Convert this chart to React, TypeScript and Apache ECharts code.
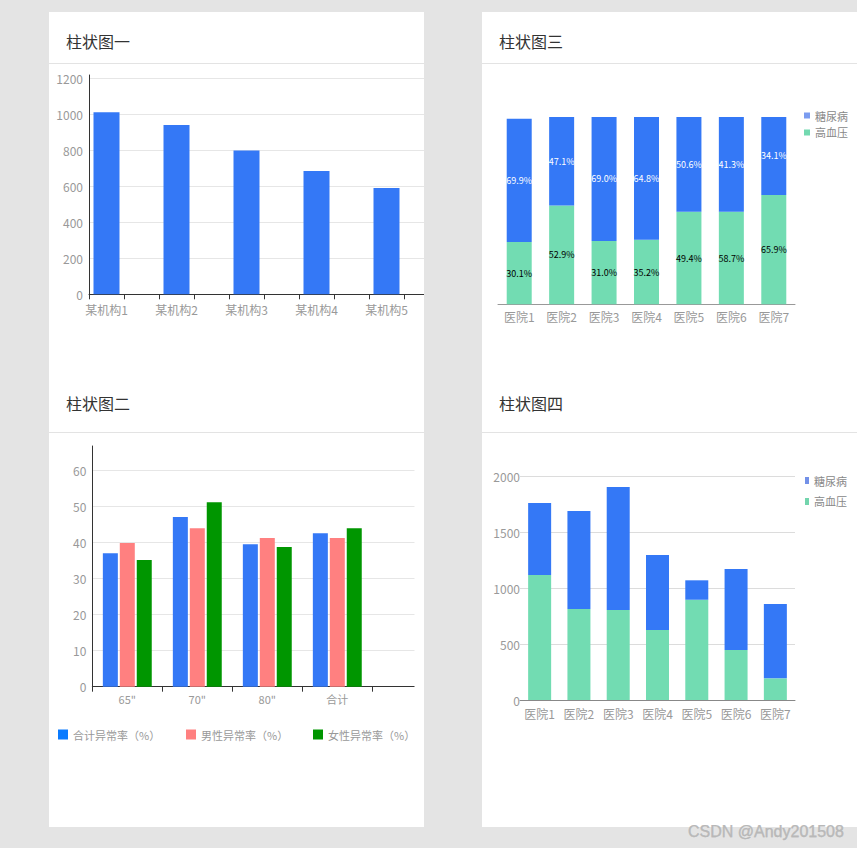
import React, { useEffect, useRef } from 'react';
import * as echarts from 'echarts';

// ---------- data ----------
const chart1Categories = ['某机构1', '', '某机构2', '', '某机构3', '', '某机构4', '', '某机构5', ''];
const chart1Values: (number | string)[] = [1011, '-', 940, '-', 798, '-', 685, '-', 590, '-'];
const chart1YTicks = [0, 200, 400, 600, 800, 1000, 1200];

const chart2Categories = ['65"', '70"', '80"', '合计', ''];
const chart2SeriesNames = ['合计异常率（%）', '男性异常率（%）', '女性异常率（%）'];
const chart2Total = [37.0, 47.0, 39.5, 42.5];
const chart2Male = [39.8, 43.9, 41.2, 41.2];
const chart2Female = [35.1, 51.1, 38.7, 43.9];

const hospitals = ['医院1', '医院2', '医院3', '医院4', '医院5', '医院6', '医院7'];
const diseaseNames = ['糖尿病', '高血压'];
const chart3Hypertension = [33.3, 52.7, 33.8, 34.4, 49.4, 49.4, 58.4];
const chart3Diabetes = [65.8, 47.3, 66.2, 65.6, 50.6, 50.6, 41.6];
const chart3HypertensionLabels = ['30.1%', '52.9%', '31.0%', '35.2%', '49.4%', '58.7%', '65.9%'];
const chart3DiabetesLabels = ['69.9%', '47.1%', '69.0%', '64.8%', '50.6%', '41.3%', '34.1%'];

const chart4Hypertension = [1120, 815, 805, 627, 898, 448, 194];
const chart4Diabetes = [645, 878, 1103, 672, 174, 725, 666];

const titles = ['柱状图一', '柱状图二', '柱状图三', '柱状图四'];
const watermark = 'CSDN @Andy201508';

// ---------- styles ----------
const FONT = '"Noto Sans CJK SC", "Microsoft YaHei", sans-serif';
const BLUE = '#3478f6';
const MINT = '#72dcb2';
const PINK = '#ff8080';
const DGREEN = '#009600';
const PAGE = '#e4e4e4';
const LABEL = '#999';
const SPLIT = '#e6e6e6';

const plain = (v: number) => String(v);

function buildOption(): any {
  const titleStyle = { fontSize: 16, color: '#333', fontWeight: 'normal', fontFamily: FONT };
  return {
    animation: false,
    backgroundColor: 'transparent',
    textStyle: { fontFamily: FONT },
    title: [
      { text: titles[0], left: 66, top: 33, textStyle: titleStyle, padding: 0 },
      { text: titles[1], left: 66, top: 395, textStyle: titleStyle, padding: 0 },
      { text: titles[2], left: 499, top: 33, textStyle: titleStyle, padding: 0 },
      { text: titles[3], left: 499, top: 395, textStyle: titleStyle, padding: 0 },
    ],
    legend: [
      {
        data: [{ name: chart2SeriesNames[0], itemStyle: { color: '#0a7bff' } }],
        left: 58, top: 729, itemWidth: 10, itemHeight: 10, icon: 'rect', selectedMode: false, padding: 0,
        textStyle: { color: LABEL, fontSize: 11, fontFamily: FONT },
      },
      {
        data: [{ name: chart2SeriesNames[1], itemStyle: { color: PINK } }],
        left: 186, top: 729, itemWidth: 10, itemHeight: 10, icon: 'rect', selectedMode: false, padding: 0,
        textStyle: { color: LABEL, fontSize: 11, fontFamily: FONT },
      },
      {
        data: [{ name: chart2SeriesNames[2], itemStyle: { color: DGREEN } }],
        left: 313, top: 729, itemWidth: 10, itemHeight: 10, icon: 'rect', selectedMode: false, padding: 0,
        textStyle: { color: LABEL, fontSize: 11, fontFamily: FONT },
      },
      {
        data: [
          { name: diseaseNames[0], itemStyle: { color: '#7b9cf0' } },
          { name: diseaseNames[1], itemStyle: { color: '#73d9b0' } },
        ],
        orient: 'vertical', left: 804, top: 110, itemWidth: 6, itemHeight: 6, itemGap: 6, icon: 'rect',
        selectedMode: false, padding: 0,
        textStyle: { color: '#888', fontSize: 11, fontFamily: FONT },
      },
      {
        data: [
          { name: diseaseNames[0], itemStyle: { color: '#7391e8' } },
          { name: diseaseNames[1], itemStyle: { color: '#73d5ad' } },
        ],
        orient: 'vertical', left: 805, top: 475, itemWidth: 4, itemHeight: 7, itemGap: 10, icon: 'rect',
        selectedMode: false, padding: 0,
        textStyle: { color: '#888', fontSize: 11, fontFamily: FONT },
      },
    ],
    grid: [
      { left: 89, top: 75, width: 350, height: 219.3, outerBoundsMode: 'none' },
      { left: 92.3, top: 446, width: 350, height: 240.7, outerBoundsMode: 'none' },
      { left: 498, top: 117, width: 297, height: 187.3, outerBoundsMode: 'none' },
      { left: 520, top: 476.7, width: 275, height: 223.3, outerBoundsMode: 'none' },
    ],
    xAxis: [
      {
        gridIndex: 0, type: 'category', data: chart1Categories,
        axisLine: { lineStyle: { color: '#333' } },
        axisTick: { show: true, interval: 0, length: 5, lineStyle: { color: '#333' } },
        axisLabel: { interval: 0, color: LABEL, fontSize: 12, margin: 9 },
      },
      {
        gridIndex: 1, type: 'category', data: chart2Categories,
        axisLine: { lineStyle: { color: '#333' } },
        axisTick: { show: true, interval: 0, length: 5, lineStyle: { color: '#333' } },
        axisLabel: { interval: 0, color: LABEL, fontSize: 11, margin: 7 },
      },
      {
        gridIndex: 2, type: 'category', data: hospitals,
        axisLine: { lineStyle: { color: '#999' } },
        axisTick: { show: false },
        axisLabel: { interval: 0, color: LABEL, fontSize: 12, margin: 6 },
      },
      {
        gridIndex: 3, type: 'category', data: hospitals,
        axisLine: { lineStyle: { color: '#888' } },
        axisTick: { show: false },
        axisLabel: { interval: 0, color: LABEL, fontSize: 12, margin: 7 },
      },
    ],
    yAxis: [
      {
        gridIndex: 0, type: 'value', min: chart1YTicks[0], max: 1218, interval: 200,
        axisLine: { show: true, lineStyle: { color: '#333' } },
        axisTick: { show: false },
        axisLabel: { color: LABEL, fontSize: 12, margin: 6, showMaxLabel: false, formatter: plain },
        splitLine: { lineStyle: { color: SPLIT }, showMaxLine: false },
      },
      {
        gridIndex: 1, type: 'value', min: 0, max: 66.7, interval: 10,
        axisLine: { show: true, lineStyle: { color: '#333' } },
        axisTick: { show: false },
        axisLabel: { color: LABEL, fontSize: 12, margin: 6, showMaxLabel: false, formatter: plain },
        splitLine: { lineStyle: { color: SPLIT }, showMaxLine: false },
      },
      {
        gridIndex: 2, type: 'value', min: 0, max: 100, show: false,
        splitLine: { show: false },
      },
      {
        gridIndex: 3, type: 'value', min: 0, max: 2000, interval: 500,
        axisLine: { show: false },
        axisTick: { show: false },
        axisLabel: { color: LABEL, fontSize: 12, margin: 0, formatter: plain },
        splitLine: { lineStyle: { color: '#dcdcdc' } },
      },
    ],
    series: [
      {
        type: 'bar', name: '数量', xAxisIndex: 0, yAxisIndex: 0, data: chart1Values,
        barWidth: 26, itemStyle: { color: BLUE },
      },
      {
        type: 'bar', name: chart2SeriesNames[0], xAxisIndex: 1, yAxisIndex: 1, data: chart2Total,
        barWidth: 15, barGap: '13%', itemStyle: { color: BLUE },
      },
      {
        type: 'bar', name: chart2SeriesNames[1], xAxisIndex: 1, yAxisIndex: 1, data: chart2Male,
        barWidth: 15, barGap: '13%', itemStyle: { color: PINK },
      },
      {
        type: 'bar', name: chart2SeriesNames[2], xAxisIndex: 1, yAxisIndex: 1, data: chart2Female,
        barWidth: 15, barGap: '13%', itemStyle: { color: DGREEN },
      },
      {
        type: 'bar', name: diseaseNames[1], xAxisIndex: 2, yAxisIndex: 2, stack: 'c3',
        data: chart3Hypertension, barWidth: 25, itemStyle: { color: MINT },
        label: {
          show: true, position: 'inside', fontSize: 9, color: '#000',
          formatter: (p: any) => chart3HypertensionLabels[p.dataIndex],
        },
      },
      {
        type: 'bar', name: diseaseNames[0], xAxisIndex: 2, yAxisIndex: 2, stack: 'c3',
        data: chart3Diabetes, barWidth: 25, itemStyle: { color: BLUE },
        label: {
          show: true, position: 'inside', fontSize: 9, color: '#fff',
          formatter: (p: any) => chart3DiabetesLabels[p.dataIndex],
        },
      },
      {
        type: 'bar', name: diseaseNames[1], xAxisIndex: 3, yAxisIndex: 3, stack: 'c4',
        data: chart4Hypertension, barWidth: 23, itemStyle: { color: MINT },
      },
      {
        type: 'bar', name: diseaseNames[0], xAxisIndex: 3, yAxisIndex: 3, stack: 'c4',
        data: chart4Diabetes, barWidth: 23, itemStyle: { color: BLUE },
      },
    ],
    graphic: {
      elements: [
        { type: 'line', shape: { x1: 49, y1: 63.5, x2: 424, y2: 63.5 }, style: { stroke: '#e3e3e3', lineWidth: 1 } },
        { type: 'line', shape: { x1: 482, y1: 63.5, x2: 857, y2: 63.5 }, style: { stroke: '#e3e3e3', lineWidth: 1 } },
        { type: 'line', shape: { x1: 49, y1: 432.5, x2: 424, y2: 432.5 }, style: { stroke: '#e3e3e3', lineWidth: 1 } },
        { type: 'line', shape: { x1: 482, y1: 432.5, x2: 857, y2: 432.5 }, style: { stroke: '#e3e3e3', lineWidth: 1 } },
        // clip the overflowing parts of the left-hand grids
        { type: 'rect', z: 100, shape: { x: 424, y: 66, width: 58, height: 240 }, style: { fill: PAGE } },
        { type: 'rect', z: 100, shape: { x: 414.5, y: 440, width: 9.5, height: 260 }, style: { fill: '#fff' } },
        { type: 'rect', z: 100, shape: { x: 424, y: 440, width: 58, height: 260 }, style: { fill: PAGE } },
        {
          type: 'text', z: 100, x: 688, y: 823,
          style: {
            text: watermark, fontSize: 16, fontFamily: '"Liberation Sans", Arial, sans-serif',
            fill: '#b8b8b8', stroke: '#9a9a9a', lineWidth: 0.25,
          },
        },
      ],
    },
  };
}

export default function App() {
  const ref = useRef<HTMLDivElement>(null);
  useEffect(() => {
    if (!ref.current) return;
    const chart = echarts.init(ref.current, null, { renderer: 'svg' });
    chart.setOption(buildOption());
    return () => chart.dispose();
  }, []);
  return (
    <div style={{ position: 'fixed', left: 0, top: 0, width: 857, height: 848, background: PAGE, overflow: 'hidden' }}>
      <div style={{ position: 'absolute', left: 49, top: 12, width: 375, height: 815, background: '#fff' }} />
      <div style={{ position: 'absolute', left: 482, top: 12, width: 375, height: 815, background: '#fff' }} />
      <div ref={ref} style={{ position: 'absolute', left: 0, top: 0, width: 857, height: 848 }} />
    </div>
  );
}
